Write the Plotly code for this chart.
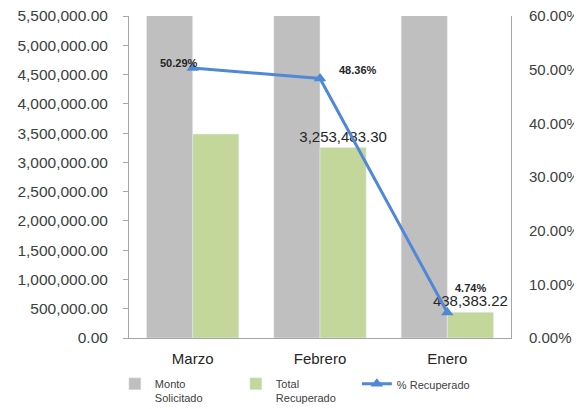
import plotly.graph_objects as go

meses = ["Marzo", "Febrero", "Enero"]
monto_solicitado = [6927800.00, 6727633.00, 9248591.00]
total_recuperado = [3484000.00, 3253483.30, 438383.22]
pct_recuperado = [0.5029, 0.4836, 0.0474]
etiquetas_total = ["", "3,253,483.30", "438,383.22"]

FONT = "Liberation Sans"
AXIS_GRAY = "#A6A6A6"
LINE_BLUE = "#4F88D6"

fig = go.Figure()

fig.add_trace(go.Bar(
    x=meses, y=monto_solicitado, name="Monto<br>Solicitado",
    marker_color="#BFBFBF", hoverinfo="y",
))
fig.add_trace(go.Bar(
    x=meses, y=total_recuperado, name="Total<br>Recuperado",
    marker_color="#C4D79B", text=etiquetas_total, textposition="outside",
    textfont=dict(size=15, color="#262626"), cliponaxis=False, constraintext="none",
))
fig.add_trace(go.Scatter(
    x=meses, y=pct_recuperado, name="% Recuperado", yaxis="y2",
    mode="lines+markers",
    line=dict(color=LINE_BLUE, width=3),
    marker=dict(symbol="triangle-up", size=11, color=LINE_BLUE),
    cliponaxis=False,
))

# etiquetas del porcentaje, desplazadas como en el original
offsets = [("right", 7, 5), ("left", 17, 8), ("left", 6, 25)]
for mes, p, (anchor, dx, dy) in zip(meses, pct_recuperado, offsets):
    fig.add_annotation(
        x=mes, y=p, yref="y2", text=f"<b>{p:.2%}</b>", showarrow=False,
        xanchor=anchor, yanchor="middle", xshift=dx, yshift=dy,
        font=dict(size=11, color="#262626"),
    )

# la pagina tiene 8px de margen en el body, se compensa aqui
fig.update_layout(
    width=574, height=401,
    margin=dict(l=121, r=71, t=8, b=71, autoexpand=False),
    paper_bgcolor="white", plot_bgcolor="white",
    font=dict(family=FONT, size=15, color="#404040"),
    barmode="group", bargap=0.275, bargroupgap=0,
    showlegend=True,
    legend=dict(
        orientation="h", x=-0.037, y=-0.1, xanchor="left", yanchor="top",
        valign="top", font=dict(size=11, color="#404040"), entrywidth=76,
        tracegroupgap=0, itemwidth=30,
    ),
    xaxis=dict(
        showline=True, linecolor=AXIS_GRAY, linewidth=1, ticks="",
        tickfont=dict(size=15, color="#262626"), showgrid=False,
        ticklabelstandoff=7,
    ),
    yaxis=dict(
        range=[0, 5500000], dtick=500000, tickformat=",.2f",
        showline=True, linecolor=AXIS_GRAY, ticks="outside", ticklen=5,
        tickcolor=AXIS_GRAY, showgrid=False, zeroline=False,
        tickfont=dict(size=15.5, color="#404040"), ticklabelstandoff=12,
        ticklabeloverflow="allow",
    ),
    yaxis2=dict(
        range=[0, 0.6], dtick=0.1, tickformat=".2%", overlaying="y", side="right",
        showline=True, linecolor=AXIS_GRAY, ticks="", ticklabelstandoff=14,
        showgrid=False, zeroline=False, ticklabeloverflow="allow",
        tickfont=dict(size=15, color="#404040"),
    ),
)

fig.write_html("out.html")
